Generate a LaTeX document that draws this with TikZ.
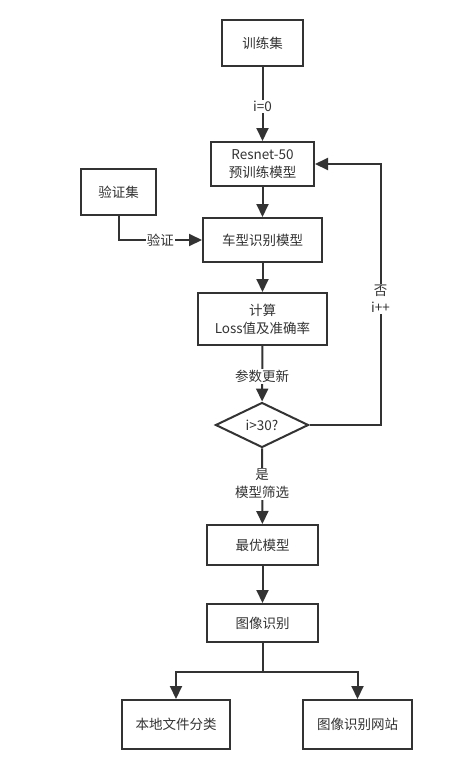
\documentclass[tikz,border=0pt]{standalone}
\usepackage{fontspec}
\setmainfont{Noto Sans CJK SC}
\usetikzlibrary{arrows.meta,shapes.geometric}
\definecolor{ink}{HTML}{333333}
\begin{document}
\begin{tikzpicture}[x=1pt,y=-1pt,
  font=\fontsize{13.5}{18}\selectfont,
  every node/.style={text=ink},
  box/.style={draw=ink,line width=2pt,fill=white,align=center,inner sep=0pt},
  dia/.style={diamond,draw=ink,line width=2pt,fill=white,inner sep=0pt,minimum width=93pt,minimum height=45pt},
  lbl/.style={fill=white,align=center,inner sep=1pt},
  conn/.style={draw=ink,line width=2pt,-{Triangle[length=13pt,width=12pt]}},
  plain/.style={draw=ink,line width=2pt}]
\useasboundingbox (0,0) rectangle (476,766);
\node[box,minimum width=81pt,minimum height=46pt] (train) at (262.5,43) {训练集};
\node[box,minimum width=103pt,minimum height=44pt] (resnet) at (262.5,164) {Resnet-50\\预训练模型};
\node[box,minimum width=75pt,minimum height=46pt] (val) at (118.5,192) {验证集};
\node[box,minimum width=119pt,minimum height=44pt] (car) at (262.5,240) {车型识别模型};
\node[box,minimum width=129pt,minimum height=52pt] (calc) at (262.5,319) {计算\\Loss值及准确率};
\node[dia] (dec) at (262,425) {i>30?};
\node[box,minimum width=111pt,minimum height=40pt] (best) at (262.5,545) {最优模型};
\node[box,minimum width=111pt,minimum height=38pt] (img) at (262.5,623) {图像识别};
\node[box,minimum width=108pt,minimum height=49pt] (local) at (176,724.5) {本地文件分类};
\node[box,minimum width=109pt,minimum height=49pt] (web) at (357.5,724.5) {图像识别网站};
\coordinate (fb) at (381,164);
\coordinate (split) at (262.5,672);

\draw[conn] (train) -- node[lbl,pos=0.53] {i=0} (resnet);
\draw[conn] (resnet) -- (car);
\draw[conn] (val) |- node[lbl,pos=0.75] {验证} (car);
\draw[conn] (car) -- (calc);
\draw[conn] (calc) -- node[lbl,pos=0.55] {参数更新} (dec);
\draw[conn] (dec.east) -| (fb) -- (resnet.east);
\node[lbl,font=\fontsize{13.5}{17}\selectfont] (nolab) at (380.5,299) {否\\i++};
\draw[conn] (dec) -- node[lbl,pos=0.47] {是\\模型筛选} (best);
\draw[conn] (best) -- (img);
\draw[plain] (img) -- (split);
\draw[conn] (split) -| (local);
\draw[conn] (split) -| (web);
\end{tikzpicture}
\end{document}
